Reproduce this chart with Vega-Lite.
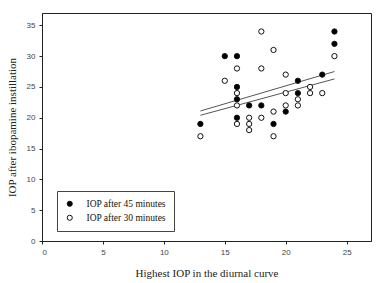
{
  "$schema": "https://vega.github.io/schema/vega-lite/v6.json",
  "autosize": {"type": "none"},
  "width": 329,
  "height": 228,
  "padding": {"left": 42, "top": 13, "right": 7, "bottom": 42},
  "background": "white",
  "config": {
    "view": {"stroke": "#222", "strokeWidth": 1},
    "axis": {"labelFont": "Liberation Sans", "labelFontSize": 8, "labelColor": "#444", "labelOverlap": false, "titleFont": "Liberation Serif", "titleFontSize": 11, "titleFontWeight": "normal", "titleColor": "#222", "grid": false, "domainColor": "#222", "tickColor": "#222", "tickSize": 3}
  },
  "datasets": {
    "pts": [
      {"highest": 13, "iop": 19, "series": "IOP after 45 minutes"},
      {"highest": 15, "iop": 30, "series": "IOP after 45 minutes"},
      {"highest": 16, "iop": 30, "series": "IOP after 45 minutes"},
      {"highest": 16, "iop": 25, "series": "IOP after 45 minutes"},
      {"highest": 16, "iop": 23, "series": "IOP after 45 minutes"},
      {"highest": 16, "iop": 20, "series": "IOP after 45 minutes"},
      {"highest": 17, "iop": 22, "series": "IOP after 45 minutes"},
      {"highest": 18, "iop": 22, "series": "IOP after 45 minutes"},
      {"highest": 19, "iop": 19, "series": "IOP after 45 minutes"},
      {"highest": 20, "iop": 21, "series": "IOP after 45 minutes"},
      {"highest": 21, "iop": 26, "series": "IOP after 45 minutes"},
      {"highest": 21, "iop": 24, "series": "IOP after 45 minutes"},
      {"highest": 23, "iop": 27, "series": "IOP after 45 minutes"},
      {"highest": 24, "iop": 34, "series": "IOP after 45 minutes"},
      {"highest": 24, "iop": 32, "series": "IOP after 45 minutes"},
      {"highest": 13, "iop": 17, "series": "IOP after 30 minutes"},
      {"highest": 15, "iop": 26, "series": "IOP after 30 minutes"},
      {"highest": 16, "iop": 28, "series": "IOP after 30 minutes"},
      {"highest": 16, "iop": 24, "series": "IOP after 30 minutes"},
      {"highest": 16, "iop": 22, "series": "IOP after 30 minutes"},
      {"highest": 16, "iop": 19, "series": "IOP after 30 minutes"},
      {"highest": 17, "iop": 20, "series": "IOP after 30 minutes"},
      {"highest": 17, "iop": 19, "series": "IOP after 30 minutes"},
      {"highest": 17, "iop": 18, "series": "IOP after 30 minutes"},
      {"highest": 18, "iop": 34, "series": "IOP after 30 minutes"},
      {"highest": 18, "iop": 28, "series": "IOP after 30 minutes"},
      {"highest": 18, "iop": 20, "series": "IOP after 30 minutes"},
      {"highest": 19, "iop": 31, "series": "IOP after 30 minutes"},
      {"highest": 19, "iop": 21, "series": "IOP after 30 minutes"},
      {"highest": 19, "iop": 17, "series": "IOP after 30 minutes"},
      {"highest": 20, "iop": 27, "series": "IOP after 30 minutes"},
      {"highest": 20, "iop": 24, "series": "IOP after 30 minutes"},
      {"highest": 20, "iop": 22, "series": "IOP after 30 minutes"},
      {"highest": 21, "iop": 23, "series": "IOP after 30 minutes"},
      {"highest": 21, "iop": 22, "series": "IOP after 30 minutes"},
      {"highest": 22, "iop": 25, "series": "IOP after 30 minutes"},
      {"highest": 22, "iop": 24, "series": "IOP after 30 minutes"},
      {"highest": 23, "iop": 24, "series": "IOP after 30 minutes"},
      {"highest": 24, "iop": 30, "series": "IOP after 30 minutes"}
    ],
    "fit": [
      {"highest": 13, "iop": 21.1, "series": "45"},
      {"highest": 24, "iop": 27.5, "series": "45"},
      {"highest": 13, "iop": 20.4, "series": "30"},
      {"highest": 24, "iop": 26.3, "series": "30"}
    ]
  },
  "encoding": {
    "x": {"field": "highest", "type": "quantitative", "scale": {"domain": [0, 27], "nice": false}, "axis": {"values": [0, 5, 10, 15, 20, 25], "title": "Highest IOP in the diurnal curve", "titlePadding": 11, "labelPadding": 4}},
    "y": {"field": "iop", "type": "quantitative", "scale": {"domain": [0, 37], "nice": false}, "axis": {"values": [0, 5, 10, 15, 20, 25, 30, 35], "title": "IOP after ibopamine instillation", "titlePadding": 9, "labelPadding": 4, "labelOverlap": false}}
  },
  "layer": [
    {
      "data": {"name": "fit"},
      "mark": {"type": "line", "color": "#555", "strokeWidth": 1},
      "encoding": {
        "detail": {"field": "series"}
      }
    },
    {
      "data": {"name": "pts"},
      "mark": {"type": "point", "filled": true, "stroke": "#111", "strokeWidth": 1, "size": 28, "opacity": 1},
      "encoding": {
        "fill": {"field": "series", "type": "nominal", "scale": {"domain": ["IOP after 45 minutes", "IOP after 30 minutes"], "range": ["#000000", "#ffffff"]},
          "legend": {"title": null, "orient": "none", "legendX": 15, "legendY": 178, "strokeColor": "#444", "padding": 8, "labelFont": "Liberation Serif", "labelFontSize": 9.5, "labelColor": "#111", "symbolStrokeColor": "#111", "symbolStrokeWidth": 1, "symbolSize": 26, "rowPadding": 3, "labelOffset": 12, "offset": 0, "fillColor": "white"}}
      }
    }
  ]
}
